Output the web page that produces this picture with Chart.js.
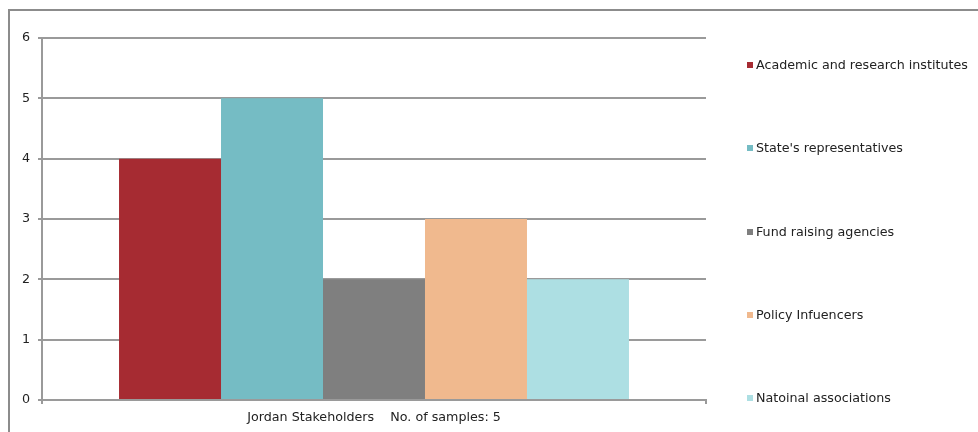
<!DOCTYPE html>
<html>
<head>
<meta charset="utf-8">
<script src="https://cdn.jsdelivr.net/npm/chart.js@4/dist/chart.umd.min.js"></script>
<style>
  html, body { margin: 0; padding: 0; background: #fff; }
  body { width: 978px; height: 432px; position: relative; overflow: hidden; font-family: "DejaVu Sans", Verdana, sans-serif; }
  .frame { position: absolute; left: 8px; top: 9px; width: 990px; height: 440px; border: 2px solid #8c8c8c; box-sizing: border-box; }
  #chartWrap { position: absolute; left: 0; top: 0; width: 978px; height: 432px; }
  .legend { position: absolute; left: 747px; top: 0; margin: 0; padding: 0; list-style: none; font-size: 12.7px; color: #222; }
  .legend li { position: absolute; white-space: nowrap; display: flex; align-items: center; }
  .legend .swatch { width: 6px; height: 6px; margin-right: 3px; display: inline-block; }
</style>
</head>
<body>
<div class="frame"></div>
<div id="chartWrap"><canvas id="stakeholderChart"></canvas></div>
<ul class="legend" id="legend"></ul>
<script>
const categories = ["Jordan Stakeholders    No. of samples: 5"];
const seriesNames = ["Academic and research institutes", "State's representatives", "Fund raising agencies", "Policy Infuencers", "Natoinal associations"];
const seriesValues = [4, 5, 2, 3, 2];
const seriesColors = ["#A62B32", "#75BCC4", "#7F7F7F", "#F0B98E", "#ADDFE3"];
const yTicks = [0, 1, 2, 3, 4, 5, 6];

document.addEventListener("DOMContentLoaded", () => {
  renderChart();
  renderLegend();
});

function renderChart() {
  new Chart(document.getElementById("stakeholderChart"), {
    type: "bar",
    data: {
      labels: categories,
      datasets: seriesNames.map((name, i) => ({
        label: name,
        data: [seriesValues[i]],
        backgroundColor: seriesColors[i],
        borderWidth: 0,
        categoryPercentage: 0.768,
        barPercentage: 1,
      })),
    },
    options: {
      responsive: true,
      maintainAspectRatio: false,
      animation: false,
      layout: { padding: { left: 9, top: 38, right: 272, bottom: 0 } },
      plugins: { legend: { display: false }, tooltip: { enabled: false } },
      scales: {
        x: {
          grid: { display: true, drawOnChartArea: false, color: "#9a9a9a", lineWidth: 2, tickLength: 4, offset: true },
          border: { color: "#9a9a9a", width: 2 },
          ticks: { color: "#222", font: { family: "DejaVu Sans", size: 12.7 }, padding: 6 },
          afterFit: scale => { scale.height = 32; },
        },
        y: {
          min: 0,
          max: 6,
          afterBuildTicks: scale => { scale.ticks = yTicks.map(v => ({ value: v })); },
          grid: { color: "#9a9a9a", lineWidth: 2, tickLength: 4 },
          border: { color: "#9a9a9a", width: 2 },
          ticks: { color: "#222", font: { family: "DejaVu Sans", size: 12.7 }, padding: 8 },
          afterFit: scale => { scale.width = 33; },
        },
      },
    },
  });
}

function renderLegend() {
  const tops = [57, 140, 224, 307, 390];
  document.getElementById("legend").innerHTML = seriesNames.map((name, i) => `
    <li style="top:${tops[i]}px"><span class="swatch" style="background:${seriesColors[i]}"></span>${name}</li>
  `).join("");
}
</script>
</body>
</html>
